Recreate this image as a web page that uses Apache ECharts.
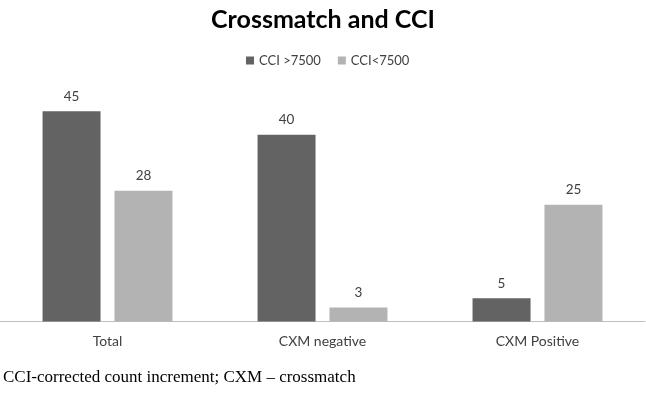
<!DOCTYPE html>
<html><head><meta charset="utf-8">
<script src="https://cdn.jsdelivr.net/npm/echarts@6/dist/echarts.min.js"></script>
<style>html,body{margin:0;padding:0;background:#fff}#c{width:646px;height:413px}</style>
</head><body><div id="c"></div>
<script>
const categories = ['Total', 'CXM negative', 'CXM Positive'];
const seriesNames = ['CCI >7500', 'CCI<7500'];
const highCCI = [45, 40, 5];
const lowCCI = [28, 3, 25];
const footnote = 'CCI-corrected count increment; CXM \u2013 crossmatch';

const chart = echarts.init(document.getElementById('c'));
const font = 'Lato, "Open Sans", sans-serif';
const lbl = {show: true, position: 'top', distance: 8, color: '#404040', fontSize: 13.5, fontFamily: font};
chart.setOption({
  animation: false,
  title: {text: 'Crossmatch and CCI', left: 'center', top: 2,
    textStyle: {fontSize: 25, fontWeight: 'bold', color: '#000', fontFamily: font}},
  legend: {top: 49, left: 241, itemWidth: 8, itemHeight: 8, itemGap: 17, icon: 'rect',
    textStyle: {fontSize: 13, color: '#404040', fontFamily: font}, data: seriesNames},
  grid: {left: 0, right: 1, top: 88, bottom: 91.5, containLabel: false},
  xAxis: {type: 'category', data: categories,
    axisLine: {lineStyle: {color: '#bfbfbf', width: 1}}, axisTick: {show: false},
    axisLabel: {color: '#404040', fontSize: 14, fontFamily: font, margin: 13}},
  yAxis: {type: 'value', min: 0, max: 50, show: false, splitLine: {show: false}},
  series: [
    {name: seriesNames[0], type: 'bar', data: highCCI, barWidth: 58, barGap: '24%',
      itemStyle: {color: '#636363'}, label: lbl},
    {name: seriesNames[1], type: 'bar', data: lowCCI, barWidth: 58,
      itemStyle: {color: '#b3b3b3'}, label: lbl}
  ],
  graphic: [{type: 'text', left: 3, top: 369,
    style: {text: footnote, fill: '#000', fontSize: 17, fontFamily: '"Liberation Serif", serif'}}]
});
</script></body></html>
